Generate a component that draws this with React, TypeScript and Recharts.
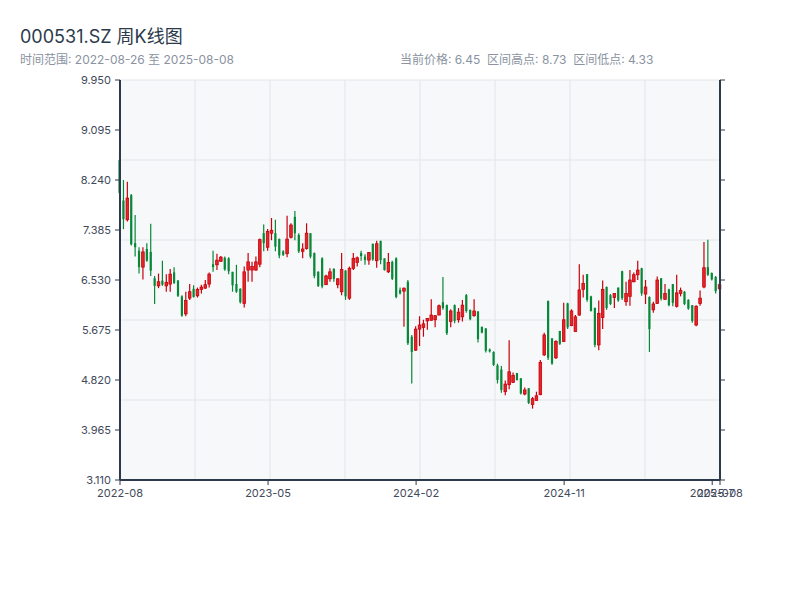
import { ComposedChart, Bar, XAxis, YAxis, CartesianGrid } from "recharts";

const START_DATE = "2022-08-26";

const opens = [
  8.58, 7.89, 7.56, 7.98, 7.16, 7.03, 6.75, 7.06, 7.01, 6.56, 6.43, 6.52, 6.43, 6.46, 6.66, 6.52, 6.25, 5.95, 6.22, 6.38,
  6.26, 6.37, 6.39, 6.46, 6.8, 6.79, 6.85, 6.91, 6.9, 6.67, 6.46, 6.38, 6.13, 6.7, 6.7, 6.7, 6.8, 7.33, 7.09, 7.33,
  7.33, 7.23, 7.02, 6.98, 7.26, 7.61, 7.3, 7.02, 7.07, 7.33, 6.99, 6.67, 6.9, 6.45, 6.55, 6.72, 6.45, 6.33, 6.69, 6.22,
  6.73, 6.83, 6.99, 6.93, 6.87, 7.15, 6.86, 7.2, 6.9, 6.67, 6.84, 6.9, 6.36, 6.34, 6.5, 5.56, 5.33, 5.69, 5.72, 5.83,
  5.84, 5.85, 5.93, 6.15, 6.1, 5.82, 6.1, 5.85, 5.9, 6.27, 6.02, 5.92, 5.99, 5.73, 5.7, 5.34, 5.3, 5.07, 5.0, 4.62,
  4.74, 4.78, 4.94, 4.85, 4.58, 4.68, 4.4, 4.47, 4.57, 5.25, 6.17, 5.53, 5.2, 5.66, 5.48, 6.13, 5.75, 5.65, 5.93, 6.37,
  6.63, 6.25, 6.05, 5.42, 5.89, 6.41, 6.27, 6.23, 6.4, 6.68, 6.16, 6.25, 6.5, 6.62, 6.73, 6.29, 6.24, 6.02, 6.13, 6.56,
  6.2, 6.37, 6.46, 6.08, 6.3, 6.33, 6.19, 6.1, 5.76, 6.13, 6.41, 6.75, 6.65, 6.58, 6.38,
];

const highs = [
  8.73, 8.24, 8.21, 8.0, 7.64, 7.09, 7.09, 7.16, 7.49, 6.6, 6.64, 6.86, 6.63, 6.72, 6.75, 6.53, 6.27, 6.33, 6.46, 6.44,
  6.4, 6.45, 6.53, 6.66, 7.03, 6.98, 6.94, 6.93, 6.92, 6.67, 6.79, 6.39, 6.76, 6.99, 6.84, 6.93, 7.24, 7.48, 7.4, 7.59,
  7.56, 7.24, 7.04, 7.63, 7.5, 7.71, 7.33, 7.16, 7.5, 7.33, 7.0, 6.68, 6.92, 6.62, 6.73, 6.73, 6.56, 6.99, 6.7, 6.76,
  6.99, 6.93, 7.03, 6.97, 7.01, 7.15, 7.2, 7.2, 6.9, 6.99, 6.86, 6.92, 6.4, 6.4, 6.53, 5.59, 5.74, 5.91, 5.85, 5.88,
  6.2, 5.93, 6.11, 6.58, 6.11, 6.03, 6.11, 6.05, 6.19, 6.29, 6.02, 6.2, 6.0, 5.73, 5.71, 5.36, 5.31, 5.1, 5.06, 4.81,
  5.5, 4.95, 4.94, 4.85, 4.69, 4.68, 4.53, 4.62, 5.16, 5.63, 6.18, 5.54, 5.5, 5.66, 6.14, 6.14, 6.03, 5.93, 6.8, 6.62,
  6.63, 6.26, 6.06, 6.18, 6.52, 6.42, 6.29, 6.3, 6.4, 6.69, 6.5, 6.7, 6.66, 6.86, 6.74, 6.53, 6.25, 6.16, 6.59, 6.56,
  6.46, 6.38, 6.46, 6.62, 6.4, 6.34, 6.2, 6.1, 6.1, 6.35, 7.18, 7.22, 6.66, 6.6, 6.5,
];

const lows = [
  7.98, 7.4, 7.53, 7.12, 6.93, 6.64, 6.54, 6.84, 6.6, 6.12, 6.39, 6.43, 6.33, 6.33, 6.46, 6.24, 5.9, 5.91, 6.19, 6.23,
  6.23, 6.3, 6.38, 6.4, 6.67, 6.7, 6.84, 6.69, 6.63, 6.33, 6.31, 6.13, 6.06, 6.5, 6.5, 6.69, 6.75, 7.02, 7.03, 7.21,
  7.02, 6.9, 6.94, 6.92, 7.24, 7.21, 6.99, 6.9, 7.05, 6.9, 6.56, 6.41, 6.39, 6.45, 6.5, 6.5, 6.39, 6.27, 6.19, 6.19,
  6.7, 6.76, 6.86, 6.79, 6.79, 6.86, 6.74, 6.8, 6.69, 6.65, 6.53, 6.22, 6.28, 5.73, 5.42, 4.76, 5.32, 5.4, 5.56, 5.68,
  5.84, 5.72, 5.93, 6.02, 5.59, 5.72, 5.79, 5.8, 5.82, 5.97, 5.84, 5.9, 5.46, 5.62, 5.29, 5.29, 5.06, 4.76, 4.6, 4.56,
  4.66, 4.77, 4.81, 4.57, 4.56, 4.41, 4.33, 4.47, 4.56, 5.23, 5.16, 5.08, 5.18, 5.42, 5.47, 5.69, 5.74, 5.65, 5.92, 6.23,
  6.16, 5.99, 5.38, 5.33, 5.69, 6.02, 6.1, 6.05, 6.16, 6.19, 6.09, 6.09, 6.49, 6.53, 6.26, 6.12, 5.3, 5.97, 6.12, 6.18,
  6.19, 6.08, 6.08, 6.06, 6.25, 6.1, 6.02, 5.8, 5.74, 6.09, 6.39, 6.6, 6.52, 6.3, 6.35,
];

const closes = [
  8.02, 7.57, 7.93, 7.14, 7.09, 6.75, 7.01, 6.86, 6.69, 6.43, 6.5, 6.45, 6.49, 6.63, 6.48, 6.26, 5.92, 6.18, 6.33, 6.24,
  6.37, 6.41, 6.45, 6.63, 6.75, 6.87, 6.92, 6.71, 6.68, 6.44, 6.33, 6.15, 6.67, 6.84, 6.76, 6.84, 7.22, 7.16, 7.36, 7.38,
  7.1, 6.95, 6.96, 7.23, 7.47, 7.33, 7.02, 7.06, 7.33, 6.93, 6.6, 6.43, 6.42, 6.6, 6.67, 6.55, 6.55, 6.71, 6.25, 6.73,
  6.9, 6.91, 6.94, 6.87, 7.0, 6.88, 7.15, 6.87, 6.7, 6.83, 6.55, 6.24, 6.3, 6.39, 5.45, 5.3, 5.69, 5.76, 5.78, 5.87,
  5.93, 5.92, 6.09, 6.05, 5.62, 6.0, 5.83, 5.98, 6.1, 6.0, 5.86, 6.0, 5.52, 5.63, 5.32, 5.31, 5.08, 4.82, 4.65, 4.75,
  4.96, 4.9, 4.82, 4.59, 4.65, 4.43, 4.5, 4.55, 5.12, 5.59, 5.2, 5.1, 5.48, 5.44, 5.85, 5.72, 6.0, 5.9, 6.36, 6.47,
  6.19, 6.0, 5.42, 5.96, 6.37, 6.05, 6.12, 6.3, 6.18, 6.22, 6.3, 6.53, 6.62, 6.7, 6.3, 6.41, 5.69, 6.12, 6.53, 6.21,
  6.3, 6.1, 6.14, 6.31, 6.35, 6.12, 6.04, 5.83, 6.08, 6.22, 6.74, 6.62, 6.54, 6.34, 6.45,
];

const priceTicks = [3.11, 3.965, 4.82, 5.675, 6.53, 7.385, 8.24, 9.095, 9.95];
const dateTickIdx = [0, 38, 76, 114, 152, 154];

const UP = "#c8000a";
const UP_FILL = "#e3262a";
const DOWN = "#078838";
const AXIS = "#2c3a4b";

const weekDates = opens.map((_, i) => {
  const d = new Date(START_DATE + "T00:00:00Z");
  d.setUTCDate(d.getUTCDate() + i * 7);
  return d.toISOString().slice(0, 10);
});

const rows = opens.map((o, i) => ({
  idx: i,
  date: weekDates[i],
  open: o,
  high: highs[i],
  low: lows[i],
  close: closes[i],
  range: [lows[i], highs[i]],
}));

const Candle = (props: any) => {
  const { x, y, width, height, payload } = props;
  if (!payload) return null;
  const { open, high, low, close } = payload;
  const span = high - low;
  const k = span > 0 ? height / span : 0;
  const py = (v: number) => y + (high - v) * k;
  const cx = x + width / 2;
  const top = py(Math.max(open, close));
  const bot = py(Math.min(open, close));
  const h = Math.max(bot - top, 1);
  if (close >= open) {
    return (
      <g>
        <line x1={cx} x2={cx} y1={py(high)} y2={py(low)} stroke={UP} strokeWidth={1.2} />
        <rect x={cx - 1.3} y={top} width={2.6} height={h} fill={UP_FILL} stroke={UP} strokeWidth={0.8} />
      </g>
    );
  }
  return (
    <g>
      <line x1={cx} x2={cx} y1={py(high)} y2={py(low)} stroke={DOWN} strokeWidth={1.2} />
      <rect x={cx - 1.1} y={top} width={2.2} height={h} fill={DOWN} />
    </g>
  );
};

const hLines = ({ offset }: any) =>
  [0, 1, 2, 3, 4, 5].map((k) => offset.top + (k * offset.height) / 5);
const vLines = ({ offset }: any) =>
  [0, 1, 2, 3, 4, 5, 6, 7, 8].map((k) => offset.left + (k * offset.width) / 8);

const tickStyle = { fill: "#3f4a5a", fontSize: 11 };

export default function App() {
  return (
    <div
      style={{
        position: "absolute",
        left: 0,
        top: 0,
        width: 800,
        height: 600,
        background: "#ffffff",
        fontFamily: "Inter, 'Noto Sans CJK SC', sans-serif",
      }}
    >
      <div style={{ position: "absolute", left: 20, top: 22, fontSize: 18, color: "#2c3a4b" }}>
        000531.SZ 周K线图
      </div>
      <div style={{ position: "absolute", left: 20, top: 50, fontSize: 12, color: "#8a939f" }}>
        时间范围: 2022-08-26 至 2025-08-08
      </div>
      <div style={{ position: "absolute", left: 400, top: 50, fontSize: 12, color: "#8a939f" }}>
        当前价格: 6.45&nbsp;&nbsp;区间高点: 8.73&nbsp;&nbsp;区间低点: 4.33
      </div>
      <div style={{ position: "absolute", left: 0, top: 0 }}>
        <ComposedChart width={800} height={600} data={rows} margin={{ top: 80, right: 0, bottom: 90, left: 0 }}>
          <CartesianGrid
            fill="#f6f8fa"
            stroke="#e2e5ea"
            horizontalCoordinatesGenerator={hLines}
            verticalCoordinatesGenerator={vLines}
          />
          <Bar
            dataKey="range"
            yAxisId="left"
            barSize={3}
            shape={<Candle />}
            isAnimationActive={false}
          />
          <XAxis
            type="number"
            dataKey="idx"
            domain={[0, opens.length - 1]}
            ticks={dateTickIdx}
            interval={0}
            tickFormatter={(i: number) => weekDates[i].slice(0, 7)}
            height={30}
            tick={tickStyle}
            tickSize={5}
            tickMargin={4}
            axisLine={{ stroke: AXIS, strokeWidth: 2 }}
            tickLine={{ stroke: AXIS }}
          />
          <YAxis
            yAxisId="left"
            width={120}
            domain={[3.11, 9.95]}
            ticks={priceTicks}
            interval={0}
            tickFormatter={(v: number) => v.toFixed(3)}
            tick={tickStyle}
            tickSize={5}
            tickMargin={4}
            axisLine={{ stroke: AXIS, strokeWidth: 2 }}
            tickLine={{ stroke: AXIS }}
          />
          <YAxis
            yAxisId="right"
            orientation="right"
            width={80}
            domain={[3.11, 9.95]}
            ticks={priceTicks}
            interval={0}
            allowDataOverflow
            tickFormatter={() => ""}
            tickSize={5}
            axisLine={{ stroke: AXIS, strokeWidth: 2 }}
            tickLine={{ stroke: AXIS }}
          />
        </ComposedChart>
      </div>
    </div>
  );
}
